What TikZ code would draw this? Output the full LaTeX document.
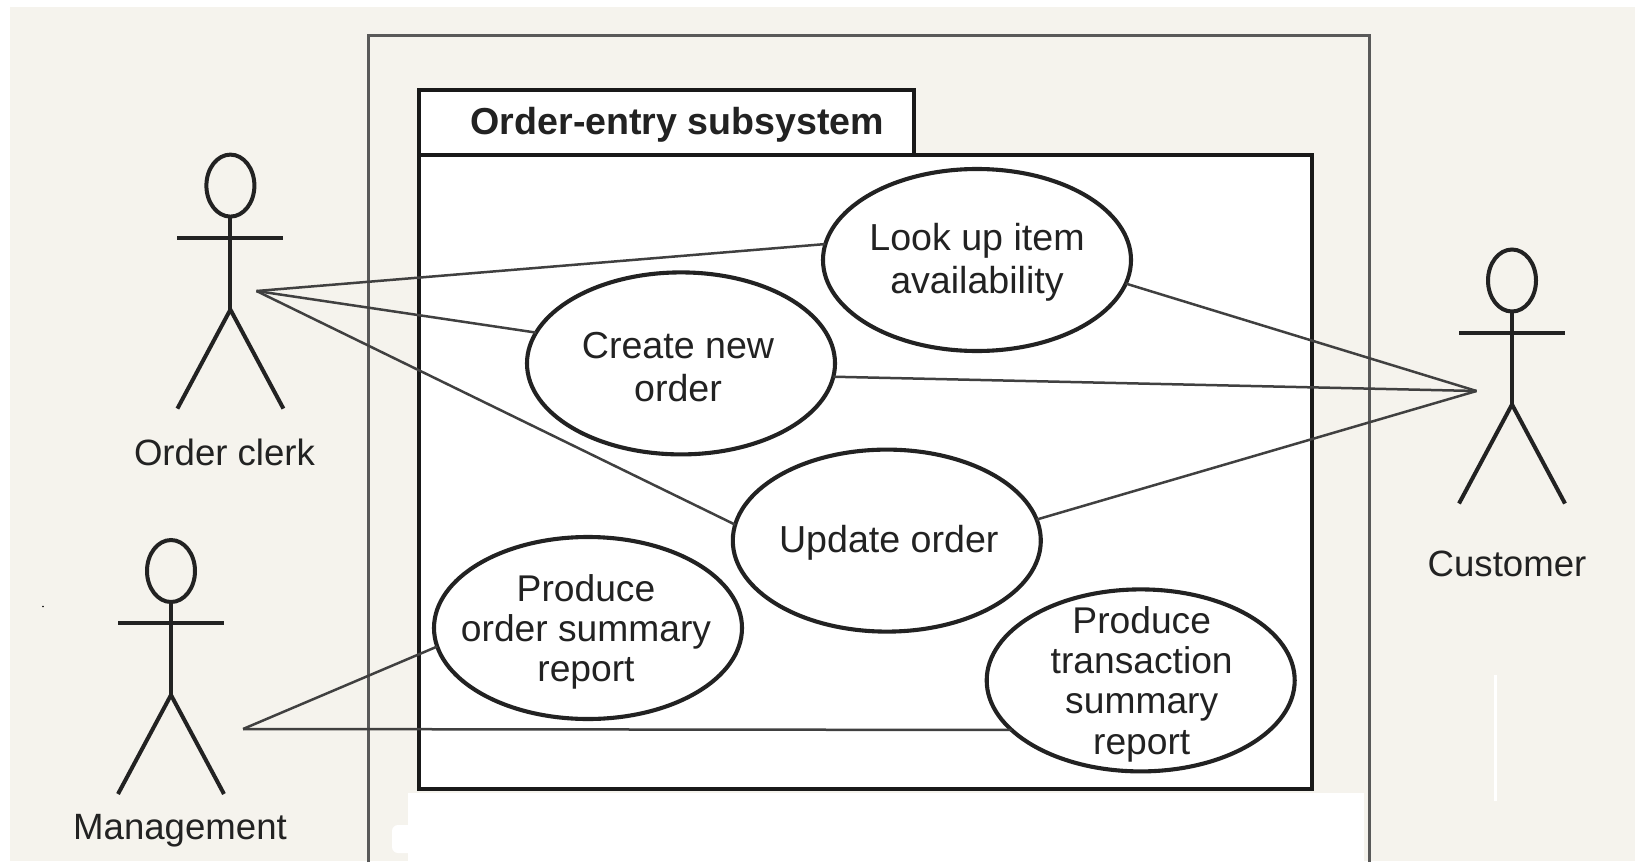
\documentclass[tikz,border=0pt]{standalone}
\usepackage{fontspec}
\setmainfont{Liberation Sans}
\usetikzlibrary{shapes.geometric}
\definecolor{paper}{HTML}{F5F3ED}
\definecolor{ink}{HTML}{222222}
\tikzset{
  usecase/.style={ellipse,draw=ink,line width=4.1pt,inner sep=0pt,outer sep=0pt,
    minimum width=308pt,minimum height=182pt,text=ink,
    font=\fontsize{37.6}{43}\selectfont},
  usecasetight/.style={usecase,font=\fontsize{37.2}{40.3}\selectfont},
  boxline/.style={draw=black!90,line width=3.8pt,fill=white,line join=miter,outer sep=0pt,inner sep=0pt},
  frameline/.style={draw=black!65,line width=3pt},
  assoc/.style={draw=black!75,line width=2.5pt},
  limb/.style={draw=ink,line width=4pt},
  actorlabel/.style={text=ink,font=\fontsize{36.6}{43}\selectfont,inner sep=0pt},
  headshape/.style={ellipse,draw=ink,line width=4pt,inner sep=0pt,outer sep=0pt,minimum width=48pt,minimum height=62pt}
}
% text that does not size the ellipse: #1 = shift right, #2 = shift down (pt), #3 = lines
\newcommand{\ctext}[3]{\makebox[0pt][c]{\kern\dimexpr 2\dimexpr #1pt\relax\relax\raisebox{\dimexpr -11pt - #2pt\relax}[0pt][0pt]{\begin{tabular}{@{}c@{}}#3\end{tabular}}}}
\newcommand{\stickman}[2]{%
  \begin{scope}[shift={#2}]
    \node[headshape] (#1head) at (0,0) {};
    \coordinate (#1neck) at (0,52);
    \coordinate (#1hip) at (0,124);
    \coordinate (#1armL) at (-53,52);
    \coordinate (#1armR) at (53,52);
    \coordinate (#1footL) at (-53,223);
    \coordinate (#1footR) at (53,223);
    \draw[limb] (#1head.south) -- (#1hip);
    \draw[limb] (#1armL) -- (#1armR);
    \draw[limb] (#1footL) -- (#1hip) -- (#1footR);
  \end{scope}}
\begin{document}
\begin{tikzpicture}[x=1pt,y=-1pt]
\useasboundingbox (0,0) rectangle (1635,862);
\fill[white] (0,0) rectangle (1635,862);
\fill[paper] (10,7) rectangle (1635,861);
% scan retouching
\fill[white] (408,793) rectangle (1364,862);
\fill[white,rounded corners=6pt] (392,825) rectangle (420,853);
\fill[white] (1494,675) rectangle (1497,801);
\fill[black] (43,606.5) circle (0.9);
% outer frame (open at the bottom)
\draw[frameline] (368,862) -- (368,35) -- (1369,35) -- (1369,862);
% subsystem package
\node[boxline,draw,minimum width=495pt,minimum height=65pt,anchor=north west] (tab) at (419,90) {};
\node[boxline,draw,minimum width=893pt,minimum height=634pt,anchor=north west] (pkg) at (419,155) {};
\node[anchor=base,text=ink,font=\bfseries\fontsize{37.6}{43}\selectfont,inner sep=0pt] (title) at (677.5,134) {Order-entry subsystem};
% use cases
\node[usecase] (lookup) at (977,260) {\ctext{0}{-1}{Look up item\\availability}};
\node[usecase] (create) at (681,363.4) {\ctext{-3}{3}{Create new\\order}};
\node[usecase] (update) at (886.8,540.6) {\ctext{2}{-1.5}{Update order}};
\node[usecasetight] (ordersum) at (588,628) {\ctext{-2}{0.5}{Produce\\order summary\\report}};
\node[usecasetight] (transsum) at (1140.7,680.4) {\ctext{1}{0.5}{Produce\\transaction\\summary\\report}};
% actors
\stickman{clerk}{(230.4,185.6)}
\stickman{cust}{(1512,280.5)}
\stickman{mgmt}{(171,571)}
\node[actorlabel] (clerklabel) at (224.5,452) {Order clerk};
\node[actorlabel] (custlabel) at (1507,564) {Customer};
\node[actorlabel] (mgmtlabel) at (180,831) {Management};
% association end points
\coordinate (clerkend) at (256.5,291);
\coordinate (custend) at (1476.5,391);
\coordinate (mgmtend) at (243,729);
\draw[assoc] (clerkend) -- (lookup.174.4);
\draw[assoc] (clerkend) -- (create.168);
\draw[assoc] (clerkend) -- (update.174);
\draw[assoc] (custend) -- (lookup.-9.5);
\draw[assoc] (custend) -- (create.-5.6);
\draw[assoc] (custend) -- (update.8);
\draw[assoc] (mgmtend) -- (ordersum.187.3);
\draw[assoc] (mgmtend) -- (transsum.201.8);
\end{tikzpicture}
\end{document}
